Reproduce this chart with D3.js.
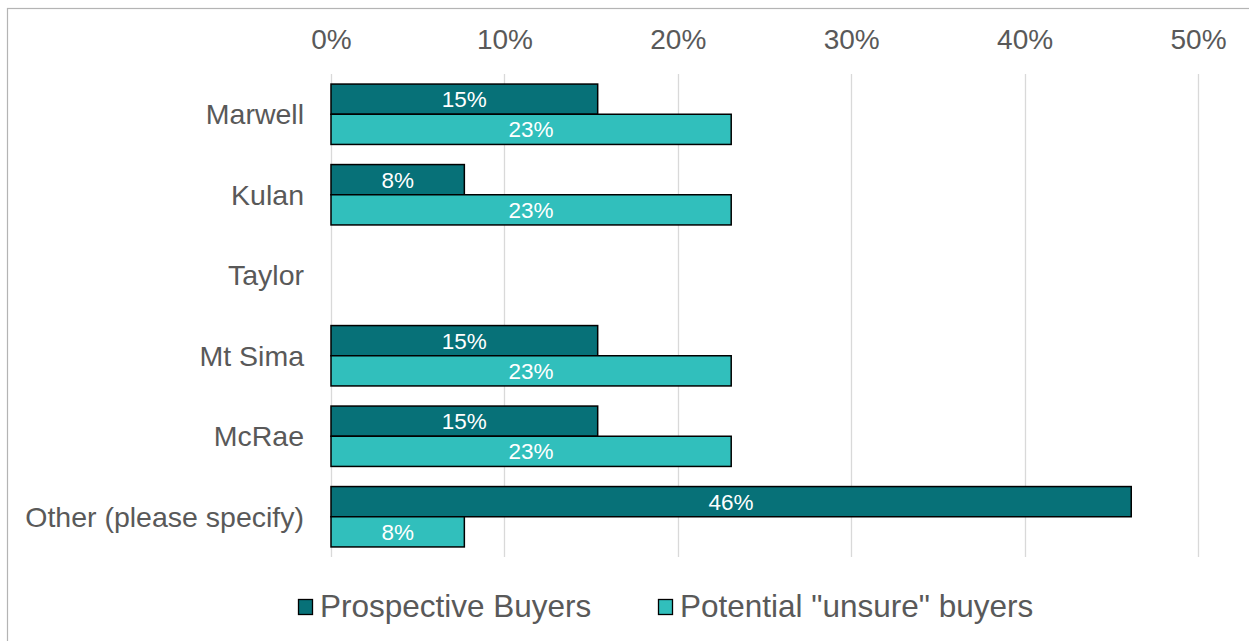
<!DOCTYPE html>
<html>
<head>
<meta charset="utf-8">
<script src="https://cdn.jsdelivr.net/npm/d3@7"></script>
<style>
  html, body { margin: 0; padding: 0; background: #ffffff; }
  svg { display: block; font-family: "Liberation Sans", Arial, sans-serif; }
</style>
</head>
<body>
<svg id="chart" width="1249" height="641"></svg>
<script>
// Survey responses: share of each buyer group choosing a location
const categories = ["Marwell", "Kulan", "Taylor", "Mt Sima", "McRae", "Other (please specify)"];
const seriesNames = ["Prospective Buyers", "Potential \"unsure\" buyers"];
const prospectiveBuyers = [0.1538, 0.0769, null, 0.1538, 0.1538, 0.4615];
const unsureBuyers      = [0.2308, 0.2308, null, 0.2308, 0.2308, 0.0769];
const tickValues = [0, 0.1, 0.2, 0.3, 0.4, 0.5];

const colors = ["#077178", "#31BFBC"];
const series = [prospectiveBuyers, unsureBuyers];

const svg = d3.select("#chart");

// chart frame
svg.append("rect")
  .attr("x", 7.5).attr("y", 8.5)
  .attr("width", 1260).attr("height", 660)
  .attr("fill", "none")
  .attr("stroke", "#b4b4b4")
  .attr("stroke-width", 1.2);

const plot = { left: 331, right: 1198, top: 74, bottom: 557 };

const x = d3.scaleLinear().domain([0, 0.5]).range([plot.left, plot.right]);
const y = d3.scaleBand().domain(categories)
  .range([plot.top, plot.bottom])
  .paddingInner(0.25).paddingOuter(0.125);
const ySub = d3.scaleBand().domain(d3.range(series.length))
  .range([0, y.bandwidth()]);

// vertical gridlines
svg.append("g").selectAll("line")
  .data(tickValues)
  .join("line")
  .attr("x1", d => Math.round(x(d)) + 0.5)
  .attr("x2", d => Math.round(x(d)) + 0.5)
  .attr("y1", plot.top).attr("y2", plot.bottom)
  .attr("stroke", "#d9d9d9").attr("stroke-width", 1.3);

// top axis tick labels
const xAxis = d3.axisTop(x).tickValues(tickValues).tickFormat(d3.format(".0%")).tickSize(0).tickPadding(0);
const axisG = svg.append("g").attr("transform", "translate(0,49)").call(xAxis);
axisG.select(".domain").remove();
axisG.selectAll("text")
  .attr("font-size", 28)
  .attr("fill", "#595959")
  .attr("font-family", "'Liberation Sans', Arial, sans-serif")
  .attr("dy", 0);

// category labels
const yAxis = d3.axisLeft(y).tickSize(0).tickPadding(0);
const yG = svg.append("g").attr("transform", "translate(304,0)").call(yAxis);
yG.select(".domain").remove();
yG.selectAll("text")
  .attr("font-size", 28.5)
  .attr("fill", "#595959")
  .attr("font-family", "'Liberation Sans', Arial, sans-serif")
  .attr("dy", "0.35em");

// bars with centred value labels
const fmt = d3.format(".0%");
series.forEach((vals, si) => {
  const g = svg.append("g");
  const data = categories.map((c, i) => ({ c, v: vals[i] })).filter(d => d.v != null);
  g.selectAll("rect")
    .data(data)
    .join("rect")
    .attr("x", x(0))
    .attr("y", d => y(d.c) + ySub(si))
    .attr("width", d => x(d.v) - x(0))
    .attr("height", ySub.bandwidth())
    .attr("fill", colors[si])
    .attr("stroke", "#000000")
    .attr("stroke-width", 1.5);
  g.selectAll("text")
    .data(data)
    .join("text")
    .attr("x", d => (x(0) + x(d.v)) / 2)
    .attr("y", d => y(d.c) + ySub(si) + ySub.bandwidth() / 2)
    .attr("dy", "0.36em")
    .attr("text-anchor", "middle")
    .attr("font-size", 22.5)
    .attr("fill", "#ffffff")
    .text(d => fmt(d.v));
});

// legend
const legendItems = [
  { name: seriesNames[0], color: colors[0], x: 298 },
  { name: seriesNames[1], color: colors[1], x: 658 }
];
const lg = svg.append("g");
legendItems.forEach(it => {
  lg.append("rect")
    .attr("x", it.x + 0.5).attr("y", 599.5)
    .attr("width", 14).attr("height", 15)
    .attr("fill", it.color)
    .attr("stroke", "#000").attr("stroke-width", 1.3);
  lg.append("text")
    .attr("x", it.x + 22).attr("y", 617)
    .attr("font-size", 31.5)
    .attr("fill", "#595959")
    .text(it.name);
});
</script>
</body>
</html>
